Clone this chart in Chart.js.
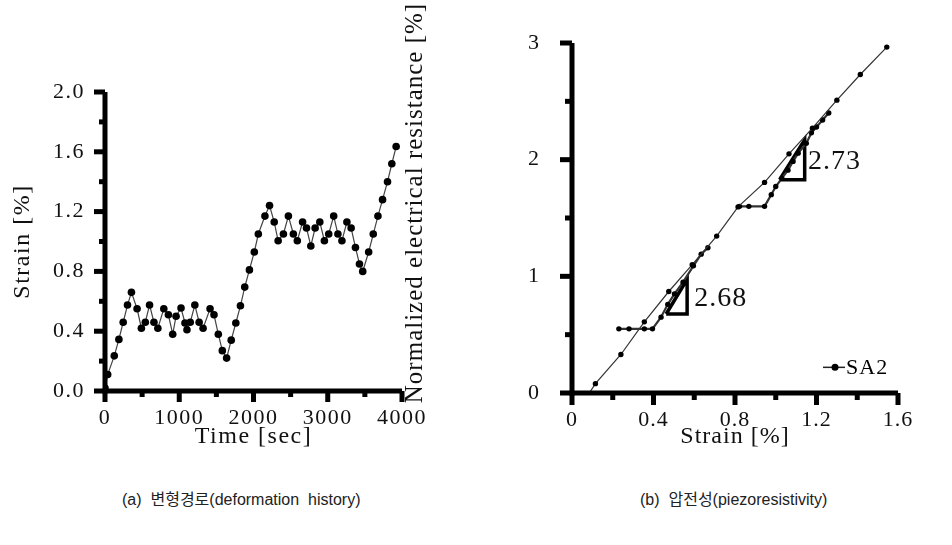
<!DOCTYPE html>
<html>
<head>
<meta charset="utf-8">
<script src="https://cdn.jsdelivr.net/npm/chart.js@4"></script>
<style>
  body { margin: 0; background: #fff; width: 952px; height: 545px; position: relative; overflow: hidden; }
  canvas { position: absolute; top: 0; }
  #history { left: 0; }
  #piezo { left: 390px; }
  .cap { position: absolute; top: 486px; font-family: "Liberation Sans", "Noto Sans CJK KR", sans-serif; font-size: 16px; color: #222; white-space: nowrap; }
</style>
</head>
<body>
<canvas id="history" width="450" height="470"></canvas>
<canvas id="piezo" width="562" height="470"></canvas>
<div class="cap" style="left:122px">(a)&nbsp; 변형경로(deformation&nbsp; history)</div>
<div class="cap" style="left:640px">(b)&nbsp; 압전성(piezoresistivity)</div>
<script>
// (a) deformation history: time [sec] vs strain [%]
const timeSec = [0, 36, 125, 187, 245, 303, 356, 432, 490, 543, 600, 659, 712, 792, 854, 912, 957,
  1024, 1077, 1104, 1148, 1210, 1268, 1321, 1415, 1468, 1526, 1580, 1638, 1700, 1762, 1824, 1882,
  1945, 2011, 2065, 2154, 2216, 2279, 2332, 2403, 2470, 2537, 2590, 2661, 2714, 2772, 2830, 2893,
  2955, 3013, 3080, 3137, 3191, 3258, 3315, 3373, 3427, 3471, 3551, 3613, 3676, 3738, 3805, 3863, 3921];
const strainPct = [0.02, 0.11, 0.235, 0.345, 0.46, 0.575, 0.66, 0.55, 0.42, 0.46, 0.575, 0.46, 0.42, 0.55, 0.51, 0.38, 0.5,
  0.555, 0.455, 0.41, 0.46, 0.575, 0.46, 0.42, 0.55, 0.51, 0.38, 0.27, 0.22, 0.34, 0.455, 0.57, 0.695,
  0.81, 0.93, 1.05, 1.17, 1.24, 1.13, 1.005, 1.05, 1.17, 1.05, 1.005, 1.13, 1.09, 0.97, 1.09, 1.13,
  1.005, 1.05, 1.17, 1.05, 1.005, 1.13, 1.09, 0.96, 0.85, 0.80, 0.93, 1.05, 1.17, 1.28, 1.40, 1.52, 1.635];

// (b) piezoresistivity: strain [%] vs normalized resistance [%]
const loadStrain = [0.085, 0.115, 0.24, 0.355, 0.475, 0.59, 0.71, 0.815, 0.945, 1.065, 1.18, 1.30, 1.415, 1.545];
const loadRes    = [0, 0.08, 0.33, 0.61, 0.87, 1.10, 1.345, 1.595, 1.805, 2.05, 2.27, 2.51, 2.73, 2.965];
const step1Strain = [0.23, 0.28, 0.355, 0.395, 0.437, 0.47, 0.503, 0.545, 0.596, 0.634, 0.667];
const step1Res    = [0.55, 0.55, 0.55, 0.55, 0.65, 0.76, 0.85, 0.95, 1.09, 1.19, 1.245];
const step2Strain = [0.822, 0.868, 0.945, 0.978, 1.0, 1.03, 1.06, 1.085, 1.11, 1.15, 1.175, 1.2, 1.23, 1.26];
const step2Res    = [1.60, 1.60, 1.60, 1.70, 1.77, 1.84, 1.91, 1.985, 2.056, 2.14, 2.23, 2.28, 2.34, 2.40];
// slope triangles and their labels
const tri1Strain = [0.462, 0.565, 0.565, 0.462];
const tri1Res    = [0.677, 0.677, 0.975, 0.677];
const tri2Strain = [1.019, 1.142, 1.142, 1.019];
const tri2Res    = [1.828, 1.828, 2.17, 1.828];
const slopeLabels = ['2.68', '2.73'];
const slopeAt = [[0.60, 0.805], [1.158, 1.985]];

const serif = "'Liberation Serif', 'DejaVu Serif', serif";
const pts = (xs, ys) => xs.map((x, i) => ({ x: x, y: ys[i] }));

// heavy axis lines plus outward ticks (long where labelled), drawn as filled bars
function makeAxes(major, minor, spacing) {
  return {
    id: 'heavyAxes',
    beforeDraw(chart) { chart.ctx.letterSpacing = spacing; },
    afterDraw(chart) {
      const ctx = chart.ctx;
      const x = chart.scales.x, y = chart.scales.y;
      const a = chart.chartArea;
      const w = 5, tw = 5;
      ctx.save();
      ctx.fillStyle = '#000';
      ctx.fillRect(a.left - w / 2, a.top, w, a.bottom - a.top + w / 2);
      ctx.fillRect(a.left - w / 2, a.bottom - w / 2, a.right - a.left + w / 2, w);
      x.ticks.forEach(t => {
        const px = x.getPixelForValue(t.value);
        const len = t.label !== '' ? major : minor;
        ctx.fillRect(px - tw / 2, a.bottom, tw, len);
      });
      y.ticks.forEach(t => {
        const py = y.getPixelForValue(t.value);
        const len = t.label !== '' ? major : minor;
        ctx.fillRect(a.left - len, py - tw / 2, len, tw);
      });
      ctx.restore();
    }
  };
}

function axis(min, max, step, cb, width, height, title, titleSize, titlePad, tickPad) {
  return {
    type: 'linear', min: min, max: max,
    grid: { display: false },
    border: { display: false },
    ticks: { stepSize: step, callback: cb, color: '#111', padding: tickPad, maxRotation: 0, autoSkip: false,
             font: { family: serif, size: 22 } },
    title: { display: !!title, text: title, color: '#111', padding: titlePad, font: { family: serif, size: titleSize } },
    afterFit: s => { if (width) s.width = width; if (height) s.height = height; }
  };
}

new Chart(document.getElementById('history'), {
  type: 'line',
  data: {
    datasets: [{
      data: pts(timeSec, strainPct),
      borderColor: '#444', borderWidth: 1.2,
      pointRadius: 3.8, pointBackgroundColor: '#000', pointBorderWidth: 0
    }]
  },
  options: {
    responsive: false, animation: false,
    layout: { padding: { left: 0, right: 48, top: 92, bottom: 0 } },
    plugins: { legend: { display: false }, tooltip: { enabled: false } },
    scales: {
      x: axis(0, 4000, 500, v => v % 1000 === 0 ? String(v) : '', 0, 79, 'Time [sec]', 24, { bottom: 19 }, 6),
      y: axis(0, 2, 0.2, v => Math.round(v * 10) % 4 === 0 ? v.toFixed(1) : '', 105, 0, 'Strain [%]', 24, { top: 8 }, 12)
    }
  },
  plugins: [makeAxes(11, 6, '1.5px')]
});

const piezoNotes = {
  id: 'piezoNotes',
  afterDraw(chart) {
    const ctx = chart.ctx;
    const { x, y } = chart.scales;
    ctx.save();
    ctx.fillStyle = '#111';
    ctx.textBaseline = 'middle';
    // y axis title, drawn by hand so it clears the left chart's last tick label
    ctx.save();
    ctx.translate(25, 203);
    ctx.rotate(-Math.PI / 2);
    ctx.textAlign = 'center';
    ctx.font = '25px ' + serif;
    ctx.fillText('Normalized electrical resistance [%]', 0, 0);
    ctx.restore();
    ctx.font = '28px ' + serif;
    slopeLabels.forEach((s, i) => ctx.fillText(s, x.getPixelForValue(slopeAt[i][0]), y.getPixelForValue(slopeAt[i][1])));
    // legend: line with dot, then series name
    const ly = y.getPixelForValue(0.22);
    const lx = x.getPixelForValue(1.232);
    ctx.strokeStyle = '#222'; ctx.lineWidth = 1.5;
    ctx.beginPath(); ctx.moveTo(lx, ly); ctx.lineTo(lx + 22, ly); ctx.stroke();
    ctx.fillStyle = '#000';
    ctx.beginPath(); ctx.arc(lx + 12, ly, 3.5, 0, Math.PI * 2); ctx.fill();
    ctx.font = '22px ' + serif;
    ctx.fillText('SA2', lx + 23, ly + 1);
    ctx.restore();
  }
};

const seriesStyle = { borderColor: '#333', borderWidth: 1.2, pointRadius: 2.7, pointBackgroundColor: '#000', pointBorderWidth: 0 };
const triStyle = { borderColor: '#000', borderWidth: 3.5, pointRadius: 0 };

new Chart(document.getElementById('piezo'), {
  type: 'line',
  data: {
    datasets: [
      Object.assign({ label: 'SA2', data: pts(loadStrain, loadRes) }, seriesStyle,
        { pointRadius: c => c.dataIndex === 0 ? 0 : 2.7 }),
      Object.assign({ data: pts(step1Strain, step1Res) }, seriesStyle, { borderWidth: 2.2 }),
      Object.assign({ data: pts(step2Strain, step2Res) }, seriesStyle, { borderWidth: 2.2 }),
      Object.assign({ data: pts(tri1Strain, tri1Res) }, triStyle),
      Object.assign({ data: pts(tri2Strain, tri2Res) }, triStyle)
    ]
  },
  options: {
    responsive: false, animation: false,
    layout: { padding: { left: 0, right: 54, top: 43, bottom: 0 } },
    plugins: { legend: { display: false }, tooltip: { enabled: false } },
    scales: {
      x: axis(0, 1.6, 0.2, v => Math.round(v * 10) % 4 === 0 ? (v === 0 ? '0' : v.toFixed(1)) : '', 0, 77, 'Strain [%]', 24, { bottom: 19 }, 6),
      y: axis(0, 3, 0.5, v => Number.isInteger(v) ? String(v) : '', 182, 0, '', 24, { top: 6 }, 24)
    }
  },
  plugins: [makeAxes(12, 7, '1px'), piezoNotes]
});
</script>
</body>
</html>
